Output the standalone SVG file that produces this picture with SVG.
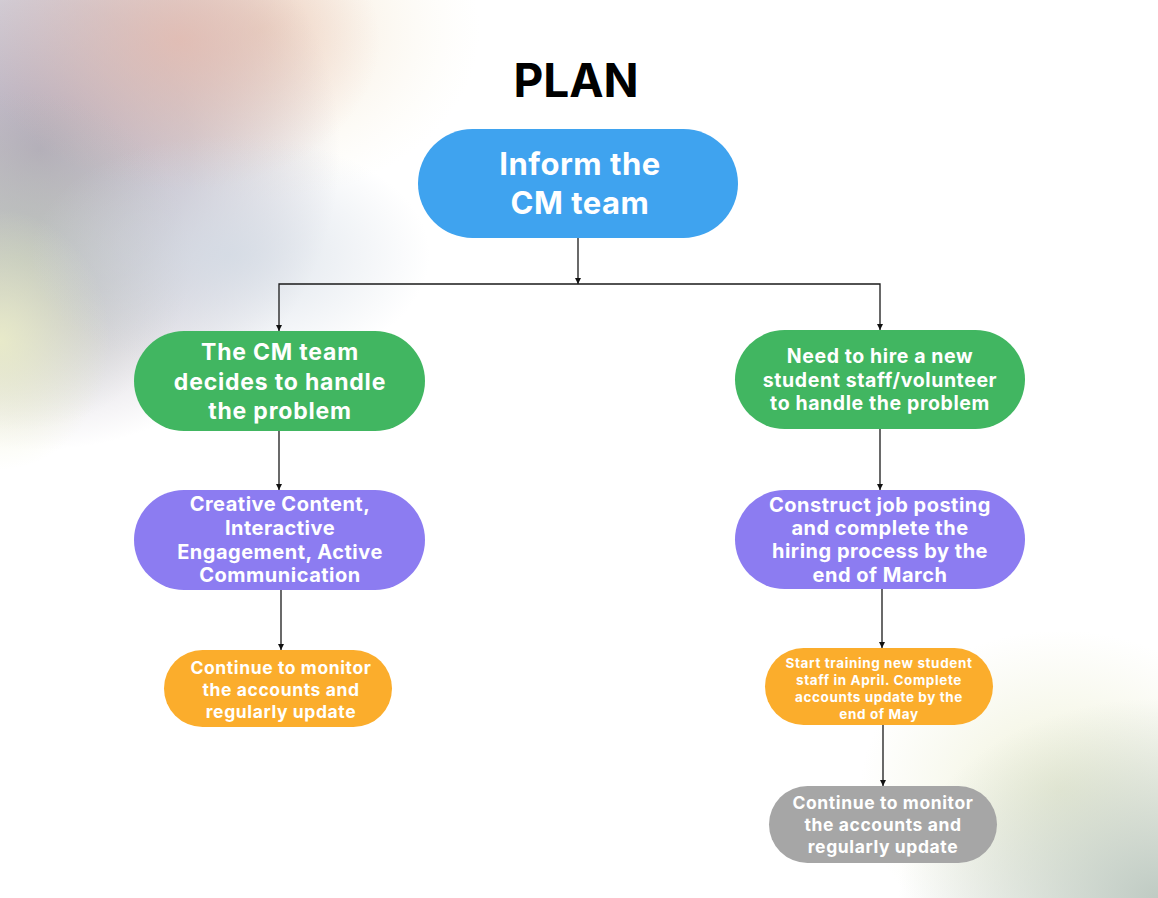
<svg xmlns="http://www.w3.org/2000/svg" width="1158" height="898" viewBox="0 0 1158 898">
<defs>
<radialGradient id="gPurple" cx="0.5" cy="0.5" r="0.5"><stop offset="0" stop-color="#aaa0b2" stop-opacity="0.9"/><stop offset="0.5" stop-color="#b0a8b8" stop-opacity="0.6"/><stop offset="1" stop-color="#b0a8b8" stop-opacity="0"/></radialGradient>
<radialGradient id="gPink" cx="0.5" cy="0.5" r="0.5"><stop offset="0" stop-color="#e4b8ac" stop-opacity="0.75"/><stop offset="1" stop-color="#e4b8ac" stop-opacity="0"/></radialGradient>
<radialGradient id="gCream" cx="0.5" cy="0.5" r="0.5"><stop offset="0" stop-color="#f2dcc6" stop-opacity="0.8"/><stop offset="1" stop-color="#f8f4e2" stop-opacity="0"/></radialGradient>
<radialGradient id="gGreen" cx="0.5" cy="0.5" r="0.5"><stop offset="0" stop-color="#b8c2b6" stop-opacity="0.75"/><stop offset="1" stop-color="#b8c2b6" stop-opacity="0"/></radialGradient>
<radialGradient id="gYellow" cx="0.5" cy="0.5" r="0.5"><stop offset="0" stop-color="#eceec8" stop-opacity="0.85"/><stop offset="1" stop-color="#eceec8" stop-opacity="0"/></radialGradient>
<radialGradient id="gBlue" cx="0.5" cy="0.5" r="0.5"><stop offset="0" stop-color="#d2dae4" stop-opacity="0.8"/><stop offset="1" stop-color="#d2dae4" stop-opacity="0"/></radialGradient>
<radialGradient id="gBR" cx="0.5" cy="0.5" r="0.5"><stop offset="0" stop-color="#bcc8c0" stop-opacity="0.95"/><stop offset="1" stop-color="#bcc8c0" stop-opacity="0"/></radialGradient>
<radialGradient id="gBRy" cx="0.5" cy="0.5" r="0.5"><stop offset="0" stop-color="#eef0d6" stop-opacity="0.9"/><stop offset="1" stop-color="#eef0d6" stop-opacity="0"/></radialGradient>
<marker id="arr" viewBox="0 0 6 6" refX="6" refY="3" markerWidth="6" markerHeight="6" markerUnits="userSpaceOnUse" orient="auto">
<path d="M0,0 L6,3 L0,6 Z" fill="#111"/>
</marker>
<style>
.t{font-family:Inter,"Liberation Sans",sans-serif;font-weight:700;fill:#ffffff;text-anchor:middle}
.c{fill:none;stroke:#1a1a1a;stroke-width:1.3}
</style>
</defs>
<rect width="1158" height="898" fill="#ffffff"/>
<g id="background">
<ellipse cx="260" cy="30" rx="220" ry="170" fill="url(#gCream)"/>
<ellipse cx="40" cy="150" rx="300" ry="300" fill="url(#gPurple)"/>
<ellipse cx="180" cy="40" rx="200" ry="150" fill="url(#gPink)"/>
<ellipse cx="20" cy="260" rx="170" ry="170" fill="url(#gGreen)"/>
<ellipse cx="0" cy="340" rx="110" ry="130" fill="url(#gYellow)"/>
<ellipse cx="230" cy="255" rx="200" ry="120" fill="url(#gBlue)"/>
<ellipse cx="1060" cy="790" rx="200" ry="160" fill="url(#gBRy)"/>
<ellipse cx="1158" cy="898" rx="260" ry="200" fill="url(#gBR)"/>
</g>
<text x="576" y="97" font-family="Inter,'Liberation Sans',sans-serif" font-weight="700" font-size="46" fill="#000" text-anchor="middle">PLAN</text>
<g id="connectors">
<path class="c" d="M578,238 V284" marker-end="url(#arr)"/>
<path class="c" d="M578,284 H279 V331" marker-end="url(#arr)"/>
<path class="c" d="M578,284 H880 V330" marker-end="url(#arr)"/>
<path class="c" d="M279,431 V490" marker-end="url(#arr)"/>
<path class="c" d="M880,429 V490" marker-end="url(#arr)"/>
<path class="c" d="M281,590 V650" marker-end="url(#arr)"/>
<path class="c" d="M882,589 V648" marker-end="url(#arr)"/>
<path class="c" d="M883,725 V786" marker-end="url(#arr)"/>
</g>
<g id="n1">
<rect x="418" y="129" width="320" height="109" rx="54.5" fill="#3fa3ef"/>
<text class="t" font-size="31" letter-spacing="0.5"><tspan x="580" y="175">Inform the</tspan><tspan x="580" y="214">CM team</tspan></text>
</g>
<g id="n2">
<rect x="134" y="331" width="291" height="100" rx="50" fill="#41b661"/>
<text class="t" font-size="23" letter-spacing="0.8"><tspan x="280" y="360">The CM team</tspan><tspan x="280" y="390">decides to handle</tspan><tspan x="280" y="419">the problem</tspan></text>
</g>
<g id="n3">
<rect x="735" y="330" width="290" height="99" rx="49.5" fill="#41b661"/>
<text class="t" font-size="19.5" letter-spacing="0.6"><tspan x="880" y="363">Need to hire a new</tspan><tspan x="880" y="387">student staff/volunteer</tspan><tspan x="880" y="410">to handle the problem</tspan></text>
</g>
<g id="n4">
<rect x="134" y="490" width="291" height="100" rx="50" fill="#8c7cf1"/>
<text class="t" font-size="20" letter-spacing="0.5"><tspan x="280" y="511">Creative Content,</tspan><tspan x="280" y="535">Interactive</tspan><tspan x="280" y="559">Engagement, Active</tspan><tspan x="280" y="582">Communication</tspan></text>
</g>
<g id="n5">
<rect x="735" y="490" width="290" height="99" rx="49.5" fill="#8c7cf1"/>
<text class="t" font-size="20" letter-spacing="0.5"><tspan x="880" y="512">Construct job posting</tspan><tspan x="880" y="535">and complete the</tspan><tspan x="880" y="558">hiring process by the</tspan><tspan x="880" y="582">end of March</tspan></text>
</g>
<g id="n6">
<rect x="164" y="650" width="228" height="77" rx="38.5" fill="#fbad2c"/>
<text class="t" font-size="17.5" letter-spacing="0.6"><tspan x="281" y="674">Continue to monitor</tspan><tspan x="281" y="696">the accounts and</tspan><tspan x="281" y="718">regularly update</tspan></text>
</g>
<g id="n7">
<rect x="765" y="648" width="228" height="77" rx="38.5" fill="#fbad2c"/>
<text class="t" font-size="13.5" letter-spacing="0.6"><tspan x="879" y="668">Start training new student</tspan><tspan x="879" y="685">staff in April. Complete</tspan><tspan x="879" y="702">accounts update by the</tspan><tspan x="879" y="719">end of May</tspan></text>
</g>
<g id="n8">
<rect x="769" y="786" width="228" height="77" rx="38.5" fill="#a6a6a6"/>
<text class="t" font-size="17.5" letter-spacing="0.6"><tspan x="883" y="809">Continue to monitor</tspan><tspan x="883" y="831">the accounts and</tspan><tspan x="883" y="853">regularly update</tspan></text>
</g>
</svg>
